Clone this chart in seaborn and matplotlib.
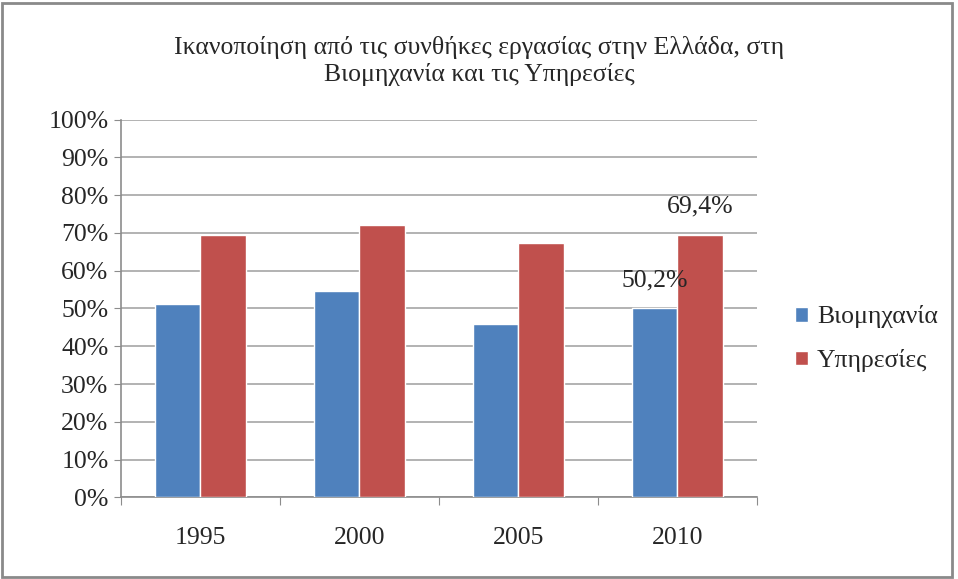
import pandas as pd
import numpy as np
import matplotlib
matplotlib.use("Agg")
import matplotlib.pyplot as plt
import seaborn as sns
from matplotlib.patches import Rectangle

# data
years = ["1995", "2000", "2005", "2010"]
industry = [51.1, 54.6, 45.8, 50.2]
services = [69.5, 72.2, 67.2, 69.4]
series_names = ["Βιομηχανία", "Υπηρεσίες"]
colors = ["#4F81BD", "#C0504D"]

df = pd.DataFrame({
    "year": years * 2,
    "value": industry + services,
    "series": [series_names[0]] * 4 + [series_names[1]] * 4,
})

sns.set_style("white")
plt.rcParams["font.family"] = ["Liberation Serif", "DejaVu Serif"]
fs = 18.5

fig = plt.figure(figsize=(9.58, 5.79), dpi=100)
ax = fig.add_axes([0.1263, 0.141, 0.6637, 0.6526])

sns.barplot(data=df, x="year", y="value", hue="series", palette=colors,
            width=0.57, saturation=1, ax=ax, zorder=3)

ax.set_ylim(0, 100)
ax.set_xlim(-0.5, 3.5)
ax.set_yticks(np.arange(0, 101, 10))
ax.set_yticklabels([f"{v}%" for v in range(0, 101, 10)], fontsize=fs)
ax.set_xticks(np.arange(-0.5, 4, 1), minor=False)
ax.set_xticklabels([])
ax.set_xticks(range(4), minor=True)
ax.set_xticklabels(years, minor=True, fontsize=fs)
ax.tick_params(axis="x", which="minor", length=0, pad=21)
ax.tick_params(axis="x", which="major", length=6, color="#8c8c8c", direction="out")
ax.tick_params(axis="y", length=5, color="#8c8c8c", direction="out", pad=4)
ax.tick_params(axis="both", left=True, bottom=True)
ax.grid(axis="y", color="#a6a6a6", linewidth=1.2, zorder=0)
ax.set_axisbelow(True)
for s in ["top", "right"]:
    ax.spines[s].set_visible(False)
for s in ["left", "bottom"]:
    ax.spines[s].set_color("#8c8c8c")
    ax.spines[s].set_linewidth(1.2)
ax.set_xlabel("")
ax.set_ylabel("")

# value labels on 2010
ax.annotate("50,2%", (3 - 0.1425, industry[3]), xytext=(0, 11.5), textcoords="offset points",
            ha="center", va="bottom", fontsize=fs)
ax.annotate("69,4%", (3 + 0.1425, services[3]), xytext=(0, 13), textcoords="offset points",
            ha="center", va="bottom", fontsize=fs)

ax.legend(loc="center left", bbox_to_anchor=(0.830, 0.415), bbox_transform=fig.transFigure,
          frameon=False, fontsize=fs, handlelength=0.5, handleheight=0.5,
          handletextpad=0.35, labelspacing=0.8, borderaxespad=0, borderpad=0)

fig.suptitle("Ικανοποίηση από τις συνθήκες εργασίας στην Ελλάδα, στη\nΒιομηχανία και τις Υπηρεσίες",
             y=0.895, va="center", fontsize=18.5, linespacing=1.2)

fig.patches.append(Rectangle((0.002, 0.003), 0.992, 0.992, transform=fig.transFigure,
                             fill=False, edgecolor="#8a8a8a", linewidth=2))

fig.savefig("out.png", dpi=100)
